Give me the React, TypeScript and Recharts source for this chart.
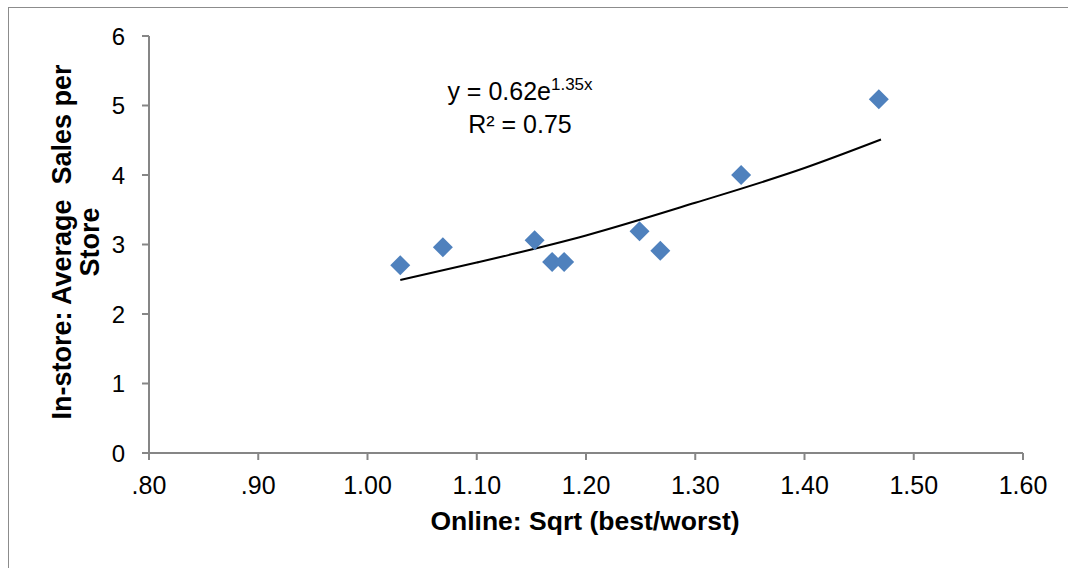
import { ComposedChart, Line, Scatter, XAxis, YAxis } from 'recharts'

const onlineSqrt = [1.03, 1.069, 1.153, 1.169, 1.18, 1.249, 1.268, 1.342, 1.468]
const instoreSales = [2.7, 2.96, 3.06, 2.75, 2.75, 3.19, 2.91, 4.0, 5.09]

// trendline (exponential fit shown in the chart)
const trendX = [1.03, 1.1, 1.2, 1.3, 1.4, 1.47]
const trendY = [2.49, 2.74, 3.13, 3.6, 4.1, 4.51]

const xTicks = [0.8, 0.9, 1.0, 1.1, 1.2, 1.3, 1.4, 1.5, 1.6]
const yTicks = [0, 1, 2, 3, 4, 5, 6]

const points = onlineSqrt.map((x, i) => ({ x, y: instoreSales[i] }))
const trend = trendX.map((x, i) => ({ x, y: trendY[i] }))

const FONT = '"Liberation Sans", Arial, sans-serif'
const AXIS = '#868686'
const BLUE = '#4F81BD'

const Diamond = (props: any) => {
  const { cx, cy } = props
  const r = 10
  return <polygon points={`${cx},${cy - r} ${cx + r},${cy} ${cx},${cy + r} ${cx - r},${cy}`} fill={BLUE} />
}

const fmtX = (v: number) => v.toFixed(2).replace(/^0/, '')

export default function App() {
  return (
    <div style={{ position: 'absolute', left: 0, top: 0, width: 1068, height: 568, background: '#fff', fontFamily: FONT, overflow: 'hidden' }}>
      <div style={{ position: 'absolute', left: 8, top: 7, width: 1070, height: 570, border: '1px solid #8c8c8c' }} />
      <div style={{ position: 'absolute', left: 0, top: 0 }}>
        <ComposedChart width={1068} height={568} margin={{ top: 36, right: 45, bottom: 0, left: 0 }}>
          <XAxis
            dataKey="x"
            type="number"
            domain={[0.8, 1.6]}
            ticks={xTicks}
            tickFormatter={fmtX}
            height={115}
            tickSize={7}
            tickMargin={16}
            stroke={AXIS}
            strokeWidth={2}
            tick={{ fill: '#000', fontSize: 25, fontFamily: FONT }}
            allowDataOverflow
          />
          <YAxis
            dataKey="y"
            type="number"
            domain={[0, 6]}
            ticks={yTicks}
            width={149}
            tickSize={7}
            tickMargin={17}
            stroke={AXIS}
            strokeWidth={2}
            tick={{ fill: '#000', fontSize: 24, fontFamily: FONT }}
          />
          <Line
            data={trend}
            dataKey="y"
            type="monotone"
            stroke="#000"
            strokeWidth={2}
            dot={false}
            activeDot={false}
            isAnimationActive={false}
          />
          <Scatter data={points} dataKey="y" shape={Diamond} isAnimationActive={false} />
        </ComposedChart>
      </div>
      <div style={{ position: 'absolute', left: 420, top: 75, width: 200, textAlign: 'center', fontSize: 25, lineHeight: '33px', color: '#000' }}>
        y = 0.62e<sup style={{ fontSize: 17, verticalAlign: 'top', lineHeight: '20px' }}>1.35x</sup>
        <br />
        R² = 0.75
      </div>
      <div style={{ position: 'absolute', left: 335, top: 506, width: 500, textAlign: 'center', fontSize: 26.5, fontWeight: 'bold', color: '#000' }}>
        Online: Sqrt (best/worst)
      </div>
      <div
        style={{
          position: 'absolute',
          left: 76,
          top: 242,
          width: 420,
          transform: 'translate(-50%, -50%) rotate(-90deg)',
          textAlign: 'center',
          fontSize: 27,
          fontWeight: 'bold',
          lineHeight: '28px',
          color: '#000',
          whiteSpace: 'pre',
        }}
      >
        {'In-store: Average  Sales per\nStore'}
      </div>
    </div>
  )
}
